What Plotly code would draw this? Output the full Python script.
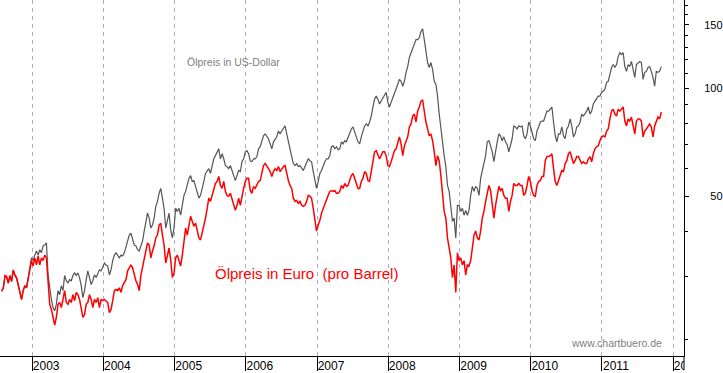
import math
import pandas as pd
import plotly.graph_objects as go

# Oil price per barrel, sampled every 8.5 days from late July 2002 to late Oct 2011
eur_price = [
    27.4, 27.9, 30.2, 30.0, 28.8, 30.2, 29.2, 31.3, 30.3, 29.8,
    28.5, 27.4, 25.9, 27.4, 28.3, 27.9, 29.8, 31.3, 33.2, 32.1,
    33.8, 32.3, 34.2, 32.3, 33.8, 33.2, 34.4, 33.8, 27.9, 25.1,
    24.3, 23.1, 22.0, 23.1, 25.1, 25.4, 24.6, 25.9, 27.4, 25.4,
    25.1, 25.9, 25.4, 26.7, 25.7, 27.1, 26.7, 25.9, 24.3, 23.1,
    23.5, 25.1, 25.4, 26.7, 25.9, 24.6, 25.9, 25.4, 26.2, 24.6,
    25.9, 25.7, 25.9, 25.7, 25.4, 23.8, 24.3, 25.7, 27.4, 27.6,
    27.4, 27.9, 27.1, 28.3, 28.8, 29.4, 31.1, 31.7, 32.3, 31.7,
    30.3, 29.2, 28.5, 27.4, 30.2, 31.7, 33.2, 35.3, 37.2, 36.7,
    33.8, 35.3, 36.5, 38.4, 39.1, 41.7, 42.2, 39.1, 36.7, 32.7,
    34.2, 36.0, 33.4, 29.8, 30.7, 33.8, 34.4, 33.2, 32.1, 34.4,
    38.4, 40.9, 39.1, 41.7, 44.1, 42.7, 41.4, 42.2, 40.4, 38.4,
    37.9, 39.6, 41.7, 43.6, 46.4, 49.5, 48.5, 50.4, 51.7, 54.4,
    55.1, 56.9, 53.7, 52.7, 55.1, 51.7, 50.4, 50.1, 51.1, 49.5,
    47.3, 45.8, 47.3, 49.5, 47.3, 50.4, 52.7, 55.1, 56.2, 56.2,
    52.0, 51.1, 53.4, 52.7, 53.7, 55.1, 55.4, 58.0, 61.0, 61.8,
    61.0, 59.8, 58.7, 56.9, 58.7, 59.8, 59.1, 60.6, 58.7, 59.8,
    60.6, 61.0, 58.0, 55.4, 53.7, 52.7, 49.5, 48.5, 48.8, 47.9,
    48.5, 47.3, 47.0, 47.3, 48.5, 50.4, 50.1, 49.5, 46.4, 42.7,
    40.1, 41.7, 43.0, 45.0, 46.4, 47.3, 48.8, 50.4, 51.7, 52.0,
    51.7, 52.0, 51.1, 51.1, 51.7, 53.7, 52.7, 54.4, 53.4, 53.7,
    55.4, 57.2, 58.0, 56.2, 53.7, 52.7, 52.7, 55.1, 56.2, 58.7,
    58.0, 55.4, 55.1, 59.1, 63.7, 66.6, 67.1, 65.0, 63.7, 65.0,
    66.6, 66.6, 65.0, 61.0, 60.6, 62.5, 65.0, 67.1, 67.9, 71.0,
    73.3, 70.1, 65.0, 69.2, 71.0, 73.3, 78.1, 79.6, 83.7, 84.8,
    80.6, 86.4, 88.7, 92.1, 92.7, 85.9, 80.6, 77.1, 73.8, 74.7,
    71.5, 66.6, 61.0, 65.0, 62.9, 57.2, 49.5, 45.5, 43.6, 38.4,
    36.0, 33.8, 29.8, 32.3, 27.1, 34.9, 33.2, 33.8, 32.3, 33.2,
    30.3, 32.3, 32.1, 33.2, 36.0, 39.1, 40.1, 38.4, 37.9, 40.1,
    43.6, 45.5, 48.5, 51.7, 53.7, 52.0, 47.3, 43.6, 47.3, 51.1,
    53.4, 52.0, 52.7, 50.4, 49.5, 49.5, 45.5, 48.5, 50.4, 54.4,
    53.7, 53.7, 54.4, 53.7, 53.7, 50.4, 51.1, 53.7, 56.9, 55.1,
    52.0, 50.4, 50.1, 53.7, 55.1, 55.4, 56.9, 56.9, 62.9, 64.6,
    64.6, 65.0, 65.8, 59.8, 55.1, 53.7, 55.4, 57.2, 59.1, 58.7,
    61.8, 62.9, 65.8, 66.6, 63.7, 61.8, 62.9, 64.6, 64.6, 62.9,
    61.8, 62.5, 61.8, 61.8, 63.7, 64.6, 62.5, 65.8, 67.9, 68.8,
    69.2, 71.5, 73.3, 73.8, 73.3, 76.1, 77.1, 82.2, 86.4, 87.5,
    84.8, 83.7, 87.5, 86.4, 87.5, 88.7, 81.1, 78.6, 82.2, 81.1,
    83.2, 78.6, 74.7, 81.1, 82.2, 82.2, 81.1, 73.3, 76.1, 77.1,
    78.6, 79.6, 78.1, 73.3, 78.6, 81.1, 83.2, 82.2, 85.9,
]

usd_price = [
    27.2, 27.8, 30.0, 29.8, 28.7, 30.0, 29.0, 31.1, 30.2, 29.6,
    28.3, 27.2, 25.9, 27.4, 28.3, 27.9, 30.2, 31.7, 33.8, 33.2,
    34.4, 35.3, 34.4, 35.6, 34.9, 36.5, 36.7, 37.2, 30.3, 27.4,
    25.9, 24.6, 24.1, 25.1, 27.4, 26.7, 28.3, 27.4, 30.2, 29.2,
    28.8, 29.4, 29.2, 30.2, 30.7, 30.2, 30.7, 29.8, 28.3, 26.2,
    27.4, 29.4, 31.1, 29.8, 28.5, 29.2, 30.3, 29.8, 30.7, 31.3,
    31.1, 32.1, 32.7, 32.3, 32.1, 30.3, 31.3, 33.2, 34.4, 34.9,
    34.4, 33.8, 34.4, 34.2, 34.9, 36.5, 37.6, 39.1, 39.6, 37.9,
    36.7, 36.5, 35.6, 35.3, 36.5, 37.6, 40.1, 42.7, 45.0, 43.6,
    40.9, 41.7, 43.6, 47.0, 48.5, 51.1, 52.7, 49.5, 46.4, 40.9,
    43.0, 45.0, 40.4, 38.4, 40.9, 46.4, 45.5, 46.4, 44.4, 47.3,
    50.4, 51.7, 53.7, 56.2, 57.2, 55.1, 55.4, 53.4, 51.7, 49.5,
    50.4, 53.4, 55.1, 58.0, 58.7, 59.8, 58.0, 61.0, 63.7, 65.0,
    66.6, 67.9, 63.7, 65.8, 63.7, 61.0, 60.6, 59.8, 61.0, 58.7,
    57.2, 55.4, 57.2, 59.1, 58.7, 62.5, 63.7, 66.6, 67.1, 65.8,
    62.9, 62.5, 63.7, 63.7, 64.6, 67.9, 68.8, 71.0, 73.8, 74.7,
    73.3, 72.4, 70.1, 67.9, 71.0, 72.4, 73.3, 76.1, 74.7, 76.1,
    77.1, 78.6, 74.7, 71.0, 66.6, 64.6, 61.8, 61.0, 61.8, 60.6,
    61.0, 59.8, 59.1, 60.6, 62.5, 63.7, 62.9, 62.5, 58.7, 55.1,
    52.7, 55.1, 58.0, 59.1, 61.0, 62.5, 63.7, 63.7, 65.0, 68.8,
    69.2, 67.9, 68.8, 67.5, 67.9, 71.0, 70.1, 71.5, 71.0, 73.3,
    75.7, 77.1, 78.1, 76.1, 73.3, 71.0, 70.1, 73.3, 75.7, 78.6,
    79.6, 78.6, 80.6, 83.7, 88.7, 93.3, 95.1, 93.3, 90.4, 92.1,
    94.5, 96.3, 97.5, 91.5, 88.7, 91.5, 94.5, 96.3, 99.4, 102.6,
    105.9, 104.6, 101.3, 104.6, 110.7, 114.9, 121.8, 125.7, 128.1, 133.9,
    136.5, 136.5, 138.3, 143.6, 146.3, 136.5, 125.7, 117.9, 114.2, 117.9,
    112.8, 104.6, 102.6, 95.1, 84.8, 77.1, 69.2, 65.0, 60.6, 53.7,
    51.7, 47.3, 42.7, 43.6, 38.4, 47.3, 47.3, 45.5, 46.4, 44.4,
    45.8, 44.4, 45.8, 50.4, 53.4, 51.7, 53.4, 52.7, 50.4, 56.2,
    58.7, 61.8, 65.0, 71.0, 71.5, 69.2, 66.6, 62.5, 67.1, 71.0,
    74.7, 73.8, 71.5, 73.3, 71.0, 69.7, 66.6, 69.2, 72.4, 78.6,
    78.1, 77.1, 78.6, 78.1, 78.6, 73.8, 72.4, 74.7, 80.6, 78.6,
    75.7, 72.4, 71.5, 76.1, 78.1, 80.6, 81.1, 81.1, 83.7, 86.4,
    86.4, 87.5, 88.7, 80.6, 73.8, 71.0, 74.7, 74.7, 78.1, 73.8,
    72.4, 77.1, 78.6, 82.2, 78.6, 73.3, 74.7, 78.1, 78.6, 80.6,
    84.8, 83.7, 84.8, 86.4, 88.7, 84.8, 86.4, 90.4, 92.1, 93.3,
    95.1, 95.1, 97.5, 98.1, 99.4, 103.9, 104.6, 109.3, 114.2, 116.4,
    114.2, 116.4, 122.5, 125.7, 124.1, 125.7, 114.9, 111.4, 116.4, 114.9,
    118.7, 112.8, 107.2, 116.4, 117.9, 118.7, 117.9, 105.9, 110.7, 111.4,
    114.2, 114.9, 111.4, 107.2, 101.3, 111.4, 110.7, 111.4, 114.9,
]

dates = pd.date_range("2002-07-28 12:00", periods=len(eur_price), freq="204h")

year_ticks = [f"{y}-01-01" for y in range(2003, 2013)]
year_labels = [str(y) for y in range(2003, 2013)]

y_major_vals = [50, 100, 150]
y_major_text = ["\u200750", "100", "150"]
y_minor_vals = [20, 30, 40, 60, 70, 80, 90, 110, 120, 130, 140, 160, 170]

FONT = "Liberation Sans, Arial, sans-serif"

fig = go.Figure()
fig.add_trace(go.Scatter(x=dates, y=usd_price, mode="lines",
                         line=dict(color="#555555", width=1.2),
                         name="Ölpreis in US-Dollar", hoverinfo="skip"))
fig.add_trace(go.Scatter(x=dates, y=eur_price, mode="lines",
                         line=dict(color="#ff0000", width=1.5),
                         name="Ölpreis in Euro", hoverinfo="skip"))

fig.update_layout(
    width=723, height=373,
    margin=dict(l=0, r=36, t=0, b=14),
    paper_bgcolor="white", plot_bgcolor="white",
    showlegend=False,
    font=dict(family=FONT, color="black"),
    xaxis=dict(
        type="date",
        range=["2002-07-20", "2012-02-26"],
        tickmode="array", tickvals=year_ticks, ticktext=year_labels,
        showgrid=True, gridcolor="#b8a8cc", griddash="4px,4px", gridwidth=1,
        ticks="outside", ticklen=14, tickcolor="black", tickwidth=1,
        showline=True, linecolor="black", linewidth=1,
        tickfont=dict(size=12, family=FONT, color="black"),
        ticklabelshift=14, ticklabelstandoff=-15,
        zeroline=False,
    ),
    yaxis=dict(
        type="log", side="right",
        range=[math.log10(18.04), math.log10(175.9)],
        tickmode="array", tickvals=y_major_vals, ticktext=y_major_text,
        ticks="outside", ticklen=4, tickcolor="black",
        minor=dict(tickmode="array", tickvals=y_minor_vals, ticks="outside",
                   ticklen=3, tickcolor="black", showgrid=False),
        showgrid=False, zeroline=False,
        showline=True, linecolor="black", linewidth=1,
        tickfont=dict(size=11, family=FONT, color="black"),
        ticklabelstandoff=13,
    ),
)

fig.add_annotation(text="Ölpreis in US-Dollar", xref="paper", yref="paper",
                   x=186 / 687, y=(359 - 63) / 359, xanchor="left", yanchor="middle",
                   showarrow=False, font=dict(size=10.5, color="#808080", family=FONT))
fig.add_annotation(text="Ölpreis in Euro\u00a0 (pro Barrel)", xref="paper", yref="paper",
                   x=214 / 687, y=(359 - 276) / 359, xanchor="left", yanchor="middle",
                   showarrow=False, font=dict(size=15, color="#ff0000", family=FONT))
fig.add_annotation(text="www.chartbuero.de", xref="paper", yref="paper",
                   x=667 / 687, y=(359 - 346) / 359, xanchor="right", yanchor="middle",
                   showarrow=False, font=dict(size=10.5, color="#808080", family=FONT))

# clip the last year label at the right frame and extend the frame downwards
fig.add_shape(type="rect", xref="paper", yref="paper", x0=1.0, x1=1.2, y0=-0.2, y1=-0.003,
              fillcolor="white", line=dict(width=0), layer="above")
fig.add_shape(type="line", xref="paper", yref="paper", x0=1.0, x1=1.0, y0=-0.04, y1=0,
              line=dict(color="black", width=1), layer="above")

fig.write_html(
    "out.html",
    config={"displayModeBar": False, "staticPlot": True},
    post_script="document.body.style.margin='0';document.body.style.overflow='hidden';",
)
